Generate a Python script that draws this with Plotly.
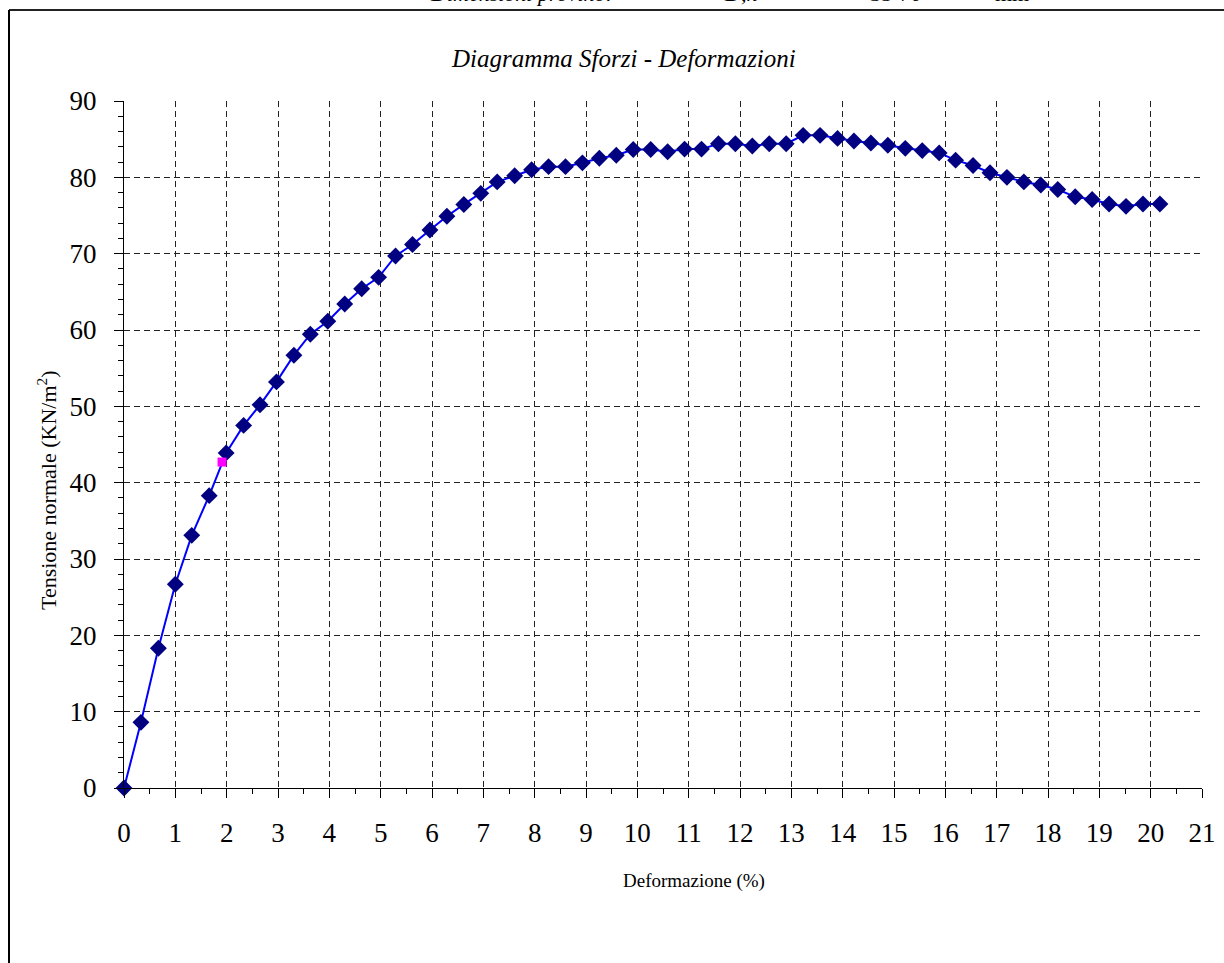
import plotly.graph_objects as go

# Data
deformazione = [0.0, 0.33, 0.67, 1.0, 1.32, 1.66, 1.99, 2.33, 2.65, 2.97, 3.31, 3.63, 3.97,
                4.30, 4.63, 4.96, 5.29, 5.62, 5.96, 6.29, 6.62, 6.95, 7.27, 7.61, 7.94,
                8.27, 8.60, 8.93, 9.26, 9.59, 9.92, 10.26, 10.59, 10.92, 11.25, 11.58,
                11.91, 12.24, 12.57, 12.90, 13.23, 13.56, 13.90, 14.22, 14.55, 14.88,
                15.22, 15.55, 15.88, 16.20, 16.54, 16.87, 17.20, 17.53, 17.86, 18.19,
                18.53, 18.86, 19.19, 19.52, 19.85, 20.18]
tensione = [0.0, 8.6, 18.3, 26.7, 33.1, 38.3, 43.9, 47.5, 50.2, 53.2, 56.7, 59.45, 61.15,
            63.4, 65.4, 66.9, 69.7, 71.2, 73.1, 74.9, 76.45, 77.9, 79.4, 80.2, 81.0,
            81.4, 81.4, 81.9, 82.5, 82.9, 83.65, 83.65, 83.35, 83.7, 83.7, 84.4,
            84.4, 84.1, 84.4, 84.4, 85.5, 85.5, 85.1, 84.75, 84.5, 84.2,
            83.8, 83.5, 83.2, 82.25, 81.55, 80.6, 80.0, 79.4, 79.0, 78.4,
            77.45, 77.1, 76.5, 76.2, 76.5, 76.5]
punto_x = [1.91]
punto_y = [42.7]

x_ticks = list(range(0, 22))
y_ticks = list(range(0, 91, 10))

W, H = 1224, 963
L, R, T, B = 124, 1202, 101, 788


def px(xp):
    return (xp - L) / (R - L)


def py(yp):
    return (B - yp) / (B - T)


fig = go.Figure()
fig.add_trace(go.Scatter(
    x=deformazione, y=tensione, mode="lines+markers",
    line=dict(color="#0000FF", width=2),
    marker=dict(symbol="diamond", size=13, color="#000080",
                line=dict(color="#000080", width=0)),
    cliponaxis=False, showlegend=False))
fig.add_trace(go.Scatter(
    x=punto_x, y=punto_y, mode="markers",
    marker=dict(symbol="square", size=9, color="#FF00FF"),
    cliponaxis=False, showlegend=False))

serif = "Liberation Serif, Times New Roman, serif"
axis_common = dict(
    showline=True, linecolor="#000000", linewidth=1,
    ticks="outside", ticklen=9, tickwidth=1, tickcolor="#000000",
    showgrid=True, gridcolor="#222222", gridwidth=1, griddash="6px,4px",
    zeroline=False,
    tickfont=dict(family=serif, size=27, color="#000000"),
)

fig.update_xaxes(range=[0, 21], tickmode="array", tickvals=x_ticks,
                 ticktext=[str(v) for v in x_ticks], ticklabelstandoff=12,
                 minor=dict(dtick=0.5, ticklen=5, ticks="outside", tickcolor="#000000",
                            showgrid=False),
                 **axis_common)
fig.update_yaxes(range=[0, 90], tickmode="array", tickvals=y_ticks,
                 ticktext=[str(v) for v in y_ticks], ticklabelstandoff=12,
                 minor=dict(dtick=2, ticklen=5, ticks="outside", tickcolor="#000000",
                            showgrid=False),
                 **axis_common)

annotations = [
    dict(text="<i>Diagramma Sforzi - Deformazioni</i>", x=px(623), y=py(58),
         font=dict(family=serif, size=25, color="#000000")),
    dict(text="Deformazione (%)", x=px(694), y=py(881),
         font=dict(family=serif, size=19, color="#000000")),
    dict(text="Tensione normale (KN/m<sup>2</sup>)", x=px(47), y=py(490), textangle=-90,
         font=dict(family=serif, size=22, color="#000000")),
    dict(text="<i>Dimensioni provino:</i>", x=px(521), y=py(-7),
         font=dict(family=serif, size=22, color="#000000")),
    dict(text="<i>D,h</i>", x=px(740), y=py(-7),
         font=dict(family=serif, size=22, color="#000000")),
    dict(text="35-70", x=px(895), y=py(-7),
         font=dict(family=serif, size=22, color="#000000")),
    dict(text="mm", x=px(1012), y=py(-7),
         font=dict(family=serif, size=22, color="#000000")),
]
for a in annotations:
    a.update(xref="paper", yref="paper", showarrow=False,
             xanchor="center", yanchor="middle")

shapes = [
    dict(type="line", xref="paper", yref="paper", x0=px(9), x1=px(1240), y0=py(10), y1=py(10),
         line=dict(color="#222222", width=2)),
    dict(type="line", xref="paper", yref="paper", x0=px(9), x1=px(9), y0=py(10), y1=py(990),
         line=dict(color="#000000", width=2)),
]

fig.update_layout(
    width=W, height=H,
    margin=dict(l=L, r=W - R, t=T, b=H - B, autoexpand=False),
    paper_bgcolor="#FFFFFF", plot_bgcolor="#FFFFFF",
    annotations=annotations, shapes=shapes,
    showlegend=False,
)

fig.write_html("out.html", config={"displayModeBar": False},
               post_script="document.body.style.margin='0px';")
